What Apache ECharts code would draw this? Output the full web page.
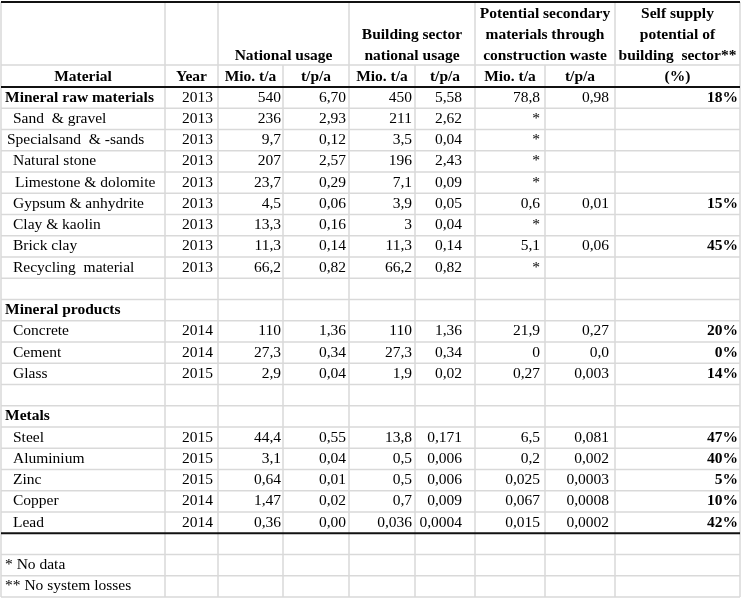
<!DOCTYPE html>
<html><head><meta charset="utf-8">
<script src="https://cdn.jsdelivr.net/npm/echarts@6/dist/echarts.min.js"></script>
<style>html,body{margin:0;padding:0;background:#fff}#c{width:743px;height:600px}</style>
</head><body><div id="c"></div>
<script>
// ---------- DATA ----------
const materials = ["Mineral raw materials","Sand  & gravel","Specialsand  & -sands","Natural stone","Limestone & dolomite","Gypsum & anhydrite","Clay & kaolin","Brick clay","Recycling  material","","Mineral products","Concrete","Cement","Glass","","Metals","Steel","Aluminium","Zinc","Copper","Lead","","* No data","** No system losses"];
const groupRows = [0,10,15];
const years   = ["2013","2013","2013","2013","2013","2013","2013","2013","2013","","","2014","2014","2015","","","2015","2015","2015","2014","2014","","",""];
const natMio  = ["540","236","9,7","207","23,7","4,5","13,3","11,3","66,2","","","110","27,3","2,9","","","44,4","3,1","0,64","1,47","0,36","","",""];
const natTpa  = ["6,70","2,93","0,12","2,57","0,29","0,06","0,16","0,14","0,82","","","1,36","0,34","0,04","","","0,55","0,04","0,01","0,02","0,00","","",""];
const bldMio  = ["450","211","3,5","196","7,1","3,9","3","11,3","66,2","","","110","27,3","1,9","","","13,8","0,5","0,5","0,7","0,036","","",""];
const bldTpa  = ["5,58","2,62","0,04","2,43","0,09","0,05","0,04","0,14","0,82","","","1,36","0,34","0,02","","","0,171","0,006","0,006","0,009","0,0004","","",""];
const secMio  = ["78,8","*","*","*","*","0,6","*","5,1","*","","","21,9","0","0,27","","","6,5","0,2","0,025","0,067","0,015","","",""];
const secTpa  = ["0,98","","","","","0,01","","0,06","","","","0,27","0,0","0,003","","","0,081","0,002","0,0003","0,0008","0,0002","","",""];
const selfSup = ["18%","","","","","15%","","45%","","","","20%","0%","14%","","","47%","40%","5%","10%","42%","","",""];
const headerGroups = [
  ["National usage"],
  ["Building sector","national usage"],
  ["Potential secondary","materials through","construction waste"],
  ["Self supply","potential of","building  sector**"]
];
const subHeaders = ["Material","Year","Mio. t/a","t/p/a","Mio. t/a","t/p/a","Mio. t/a","t/p/a","(%)"];

// ---------- LAYOUT ----------
const W = 743, H = 600;
const edges = [1,165,218,283,349,415,475,545,615,740];
const groupSpans = [[2,4],[4,6],[6,8],[8,9]];
const spanFull = [true,true,true,false,true,false,true,false,true,true];
const yTop = 2, yMid = 65, yHead = 87, rowH = 21.25, nRows = materials.length;
const rightAnchors = [213,281,346,412,462,540,609,738];
const indents = [5,13,7,13,15,13,13,13,13,5,5,13,13,13,5,5,13,13,13,13,13,5,5,5];
const thickAfterRow = 20;
const FONT = "Liberation Serif";
const FS = 15.5;
const GRAY = '#d9d9d9';

const valueCols = [years,natMio,natTpa,bldMio,bldTpa,secMio,secTpa,selfSup];

const texts = [];
materials.forEach((m,r)=>{
  if(m) texts.push([indents[r], yHead+(r+0.5)*rowH, m, 'left', groupRows.includes(r)?1:0]);
});
valueCols.forEach((col,c)=>{
  col.forEach((v,r)=>{
    if(v) texts.push([rightAnchors[c], yHead+(r+0.5)*rowH, v, 'right', c===7?1:0]);
  });
});
const headLineY = [13.5, 34.5, 55.5];
headerGroups.forEach((ls,g)=>{
  const cx = (edges[groupSpans[g][0]]+edges[groupSpans[g][1]])/2;
  const off = 3-ls.length;
  ls.forEach((t,i)=>texts.push([cx, headLineY[i+off], t, 'center', 1]));
});
subHeaders.forEach((t,i)=>{
  texts.push([(edges[i]+edges[i+1])/2, 76.5, t, 'center', 1]);
});

const lines = [];
lines.push([edges[0],yMid,edges[9],yMid,0]);
for(let k=1;k<=nRows;k++){
  const y = yHead+k*rowH;
  lines.push([edges[0],y,edges[9],y,k===thickAfterRow+1?1:0]);
}
edges.forEach((x,i)=>{
  lines.push([x, spanFull[i]?yTop:yMid, x, yHead+nRows*rowH, 0]);
});
lines.push([edges[0],yTop,edges[9],yTop,1]);
lines.push([edges[0],yHead,edges[9],yHead,1]);
lines.sort((a,b)=>a[4]-b[4]);

const chart = echarts.init(document.getElementById('c'), null, {renderer:'canvas'});
chart.setOption({
  animation:false,
  backgroundColor:'#fff',
  grid:{left:0,right:0,top:0,bottom:0},
  xAxis:{type:'value',min:0,max:W,show:false},
  yAxis:{type:'value',min:0,max:H,inverse:true,show:false},
  series:[
    {
      type:'custom', silent:true, clip:false, data:lines.map(l=>[l[0],l[1]]),
      renderItem:(params,api)=>{
        const d = lines[params.dataIndex];
        const p1 = api.coord([d[0],d[1]]), p2 = api.coord([d[2],d[3]]);
        return {type:'line', shape:{x1:p1[0],y1:p1[1],x2:p2[0],y2:p2[1]},
          style:{stroke:d[4]?'#111':GRAY, lineWidth:d[4]?2:1.5}};
      }
    },
    {
      type:'custom', silent:true, clip:false, data:texts.map(t=>[t[0],t[1]]),
      renderItem:(params,api)=>{
        const d = texts[params.dataIndex];
        const p = api.coord([d[0],d[1]]);
        return {type:'text', x:p[0], y:p[1],
          style:{text:d[2], fill:'#000', align:d[3], verticalAlign:'middle',
            fontSize:FS, fontFamily:FONT, fontWeight:d[4]?'bold':'normal'}};
      }
    }
  ]
});
</script></body></html>
